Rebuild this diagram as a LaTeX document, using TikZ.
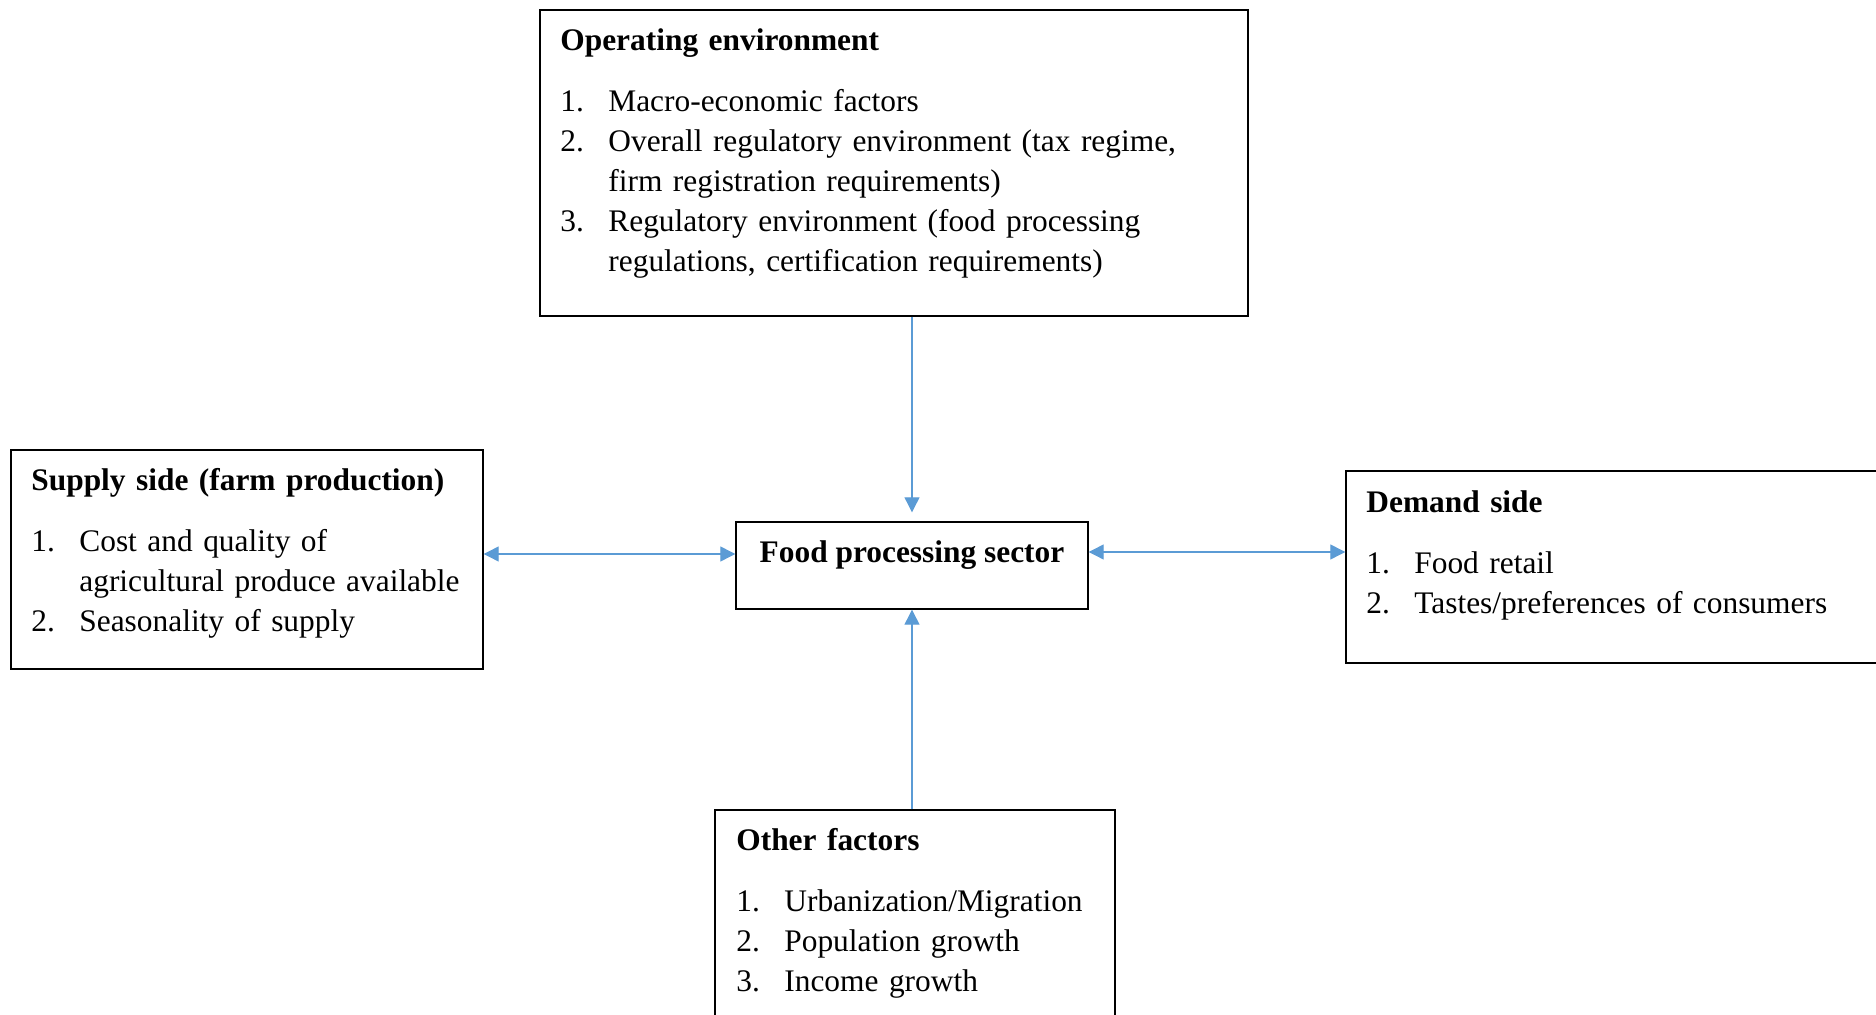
\documentclass[tikz,border=0pt]{standalone}
\usepackage{fontspec}
\setmainfont{Liberation Serif}
\usetikzlibrary{arrows.meta}
\usetikzlibrary{fit}
\definecolor{linkblue}{RGB}{91,155,213}
\newlength{\numwd}
\setlength{\numwd}{24pt}
\newcommand{\listitem}[2]{\par\noindent\hangindent=\numwd\hangafter=1\makebox[\numwd][l]{#1}#2\par}
\newcommand{\paneltitle}[1]{\textbf{#1}\par\vspace{10.5pt}}

\begin{document}
\begin{tikzpicture}[x=0.5pt, y=-0.5pt,
        panel/.style={draw=black, line width=0.7pt, inner sep=0pt},
        paneltext/.style={anchor=base west, inner sep=0pt, text width=#1, align=left, font=\fontsize{15.7}{20}\selectfont},
        onearrow/.style={draw=linkblue, line width=0.6pt, -{Triangle[length=7.5pt, width=7.5pt]}},
        twoarrow/.style={draw=linkblue, line width=0.6pt, {Triangle[length=7.5pt, width=7.5pt]}-{Triangle[length=7.5pt, width=7.5pt]}}]
    \clip (0,0) rectangle (1876,1015);
    \fill[white] (0,0) rectangle (1876,1015);

    \node[panel, fit={(540,10) (1248,316)}] (openv) {};
    \node[panel, fit={(11,450) (483,669)}] (supply) {};
    \node[panel, fit={(736,522) (1088,609)}] (food) {};
    \node[panel, fit={(1346,471) (1895,663)}] (demand) {};
    \node[panel, fit={(715,810) (1115,1035)}] (other) {};

    \node[paneltext=330pt] (openvtext) at (560,51) {\paneltitle{Operating environment}
        \listitem{1.}{Macro-economic factors}
        \listitem{2.}{Overall regulatory environment (tax regime,\newline firm registration requirements)}
        \listitem{3.}{Regulatory environment (food processing\newline regulations, certification requirements)}};
    \node[paneltext=224pt] (supplytext) at (31,491) {\paneltitle{Supply side (farm production)}
        \listitem{1.}{Cost and quality of\newline agricultural produce available}
        \listitem{2.}{Seasonality of supply}};
    \node[anchor=base, inner sep=0pt, font=\fontsize{15.7}{20}\selectfont\bfseries] (foodtext) at (912,563) {Food processing sector};
    \node[paneltext=250pt] (demandtext) at (1366,513) {\paneltitle{Demand side}
        \listitem{1.}{Food retail}
        \listitem{2.}{Tastes/preferences of consumers}};
    \node[paneltext=185pt] (othertext) at (736,851) {\paneltitle{Other factors}
        \listitem{1.}{Urbanization/Migration}
        \listitem{2.}{Population growth}
        \listitem{3.}{Income growth}};

    \coordinate (leftrow) at (0,554);
    \coordinate (rightrow) at (0,552);
    \draw[onearrow] (openv.south -| food.north) -- ([yshift=4.5pt]food.north);
    \draw[onearrow] (other.north -| food.south) -- (food.south);
    \draw[twoarrow] (supply.east |- leftrow) -- (food.west |- leftrow);
    \draw[twoarrow] (food.east |- rightrow) -- (demand.west |- rightrow);
\end{tikzpicture}
\end{document}
